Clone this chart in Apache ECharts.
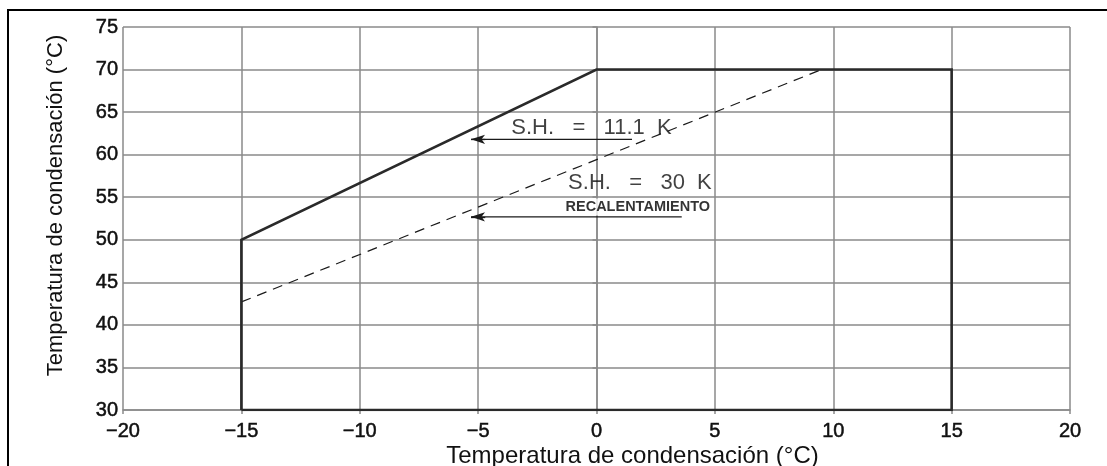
<!DOCTYPE html>
<html>
<head>
<meta charset="utf-8">
<script src="https://cdn.jsdelivr.net/npm/echarts@6/dist/echarts.min.js"></script>
<style>
  html, body { margin: 0; padding: 0; background: #fff; }
  #chart { width: 1107px; height: 466px; }
</style>
</head>
<body>
<div id="chart"></div>
<script>
// envolvente de funcionamiento (S.H. = 11.1 K), recorrido cerrado
const envelopeX = [-15, -15, 0, 15, 15, -15];
const envelopeY = [30, 50, 70, 70, 30, 30];

// límite con S.H. = 30 K
const dashedX = [-15, 9.5];
const dashedY = [42.7, 70];

// flechas: [x inicio, x fin, y]
const arrow11 = [1.5, -5.3, 61.8];
const arrow30 = [3.6, -5.3, 52.7];

// textos de anotación: [x, y, texto]
const notes = [
  [-3.6, 63.1, 'S.H.   =   11.1  K'],
  [-1.2, 56.7, 'S.H.   =   30  K'],
];
const noteBold = [-1.35, 53.85, 'RECALENTAMIENTO'];

const xTitle = 'Temperatura de condensación (°C)';
const yTitle = 'Temperatura de condensación (°C)';

const FONT = "'Liberation Sans', Arial, Helvetica, sans-serif";
const minus = (v) => String(v).replace('-', '\u2212');

const chart = echarts.init(document.getElementById('chart'));

const pair = (xs, ys) => xs.map((x, i) => [x, ys[i]]);
const arrowLine = (a) => ({
  type: 'line',
  data: [[a[0], a[2]], [a[1], a[2]]],
  symbol: 'none',
  silent: true,
  lineStyle: { color: '#1a1a1a', width: 1.3 },
  markLine: {
    silent: true,
    symbol: ['none', 'arrow'],
    symbolSize: [7, 14],
    label: { show: false },
    lineStyle: { color: '#1a1a1a', width: 1.3, type: 'solid' },
    data: [[{ coord: [a[1] + 0.6, a[2]] }, { coord: [a[1], a[2]] }]],
  },
});

const tickLabel = {
  fontSize: 20,
  color: '#111',
  fontFamily: FONT,
  textBorderColor: '#111',
  textBorderWidth: 0.5,
};

chart.setOption({
  animation: false,
  textStyle: { fontFamily: FONT },
  graphic: [{
    type: 'rect',
    shape: { x: 8, y: 10, width: 1120, height: 480 },
    style: { fill: 'none', stroke: '#000', lineWidth: 2 },
    silent: true,
    z: -10,
  }],
  grid: { left: 123, right: 37, top: 27, bottom: 56, containLabel: false, outerBoundsMode: 'none' },
  xAxis: {
    type: 'value',
    min: -20, max: 20, interval: 5,
    name: xTitle,
    nameLocation: 'middle',
    nameGap: 34,
    nameMoveOverlap: false,
    nameTextStyle: { fontSize: 24, color: '#111', fontFamily: FONT, padding: [0, 0, 0, 72] },
    axisLine: { show: true, lineStyle: { color: '#8a8a8a', width: 1.5 } },
    axisTick: { show: true, length: 4, lineStyle: { color: '#8a8a8a', width: 1.5 } },
    axisLabel: Object.assign({ margin: 11, formatter: minus }, tickLabel),
    splitLine: { show: true, lineStyle: { color: '#8a8a8a', width: 1.5 } },
  },
  yAxis: {
    type: 'value',
    min: 30, max: 75, interval: 5,
    name: yTitle,
    nameLocation: 'middle',
    nameGap: 56,
    nameMoveOverlap: false,
    nameTextStyle: { fontSize: 22, color: '#111', fontFamily: FONT, padding: [0, 0, 0, 26] },
    axisLine: { show: true, lineStyle: { color: '#8a8a8a', width: 1.5 } },
    axisTick: { show: true, length: 4, lineStyle: { color: '#8a8a8a', width: 1.5 } },
    axisLabel: Object.assign({ margin: 5 }, tickLabel),
    splitLine: { show: true, lineStyle: { color: '#8a8a8a', width: 1.5 } },
  },
  series: [
    {
      type: 'line',
      data: pair(envelopeX, envelopeY),
      symbol: 'none',
      silent: true,
      z: 5,
      lineStyle: { color: '#2a2a2a', width: 2.6, join: 'miter' },
    },
    {
      type: 'line',
      data: pair(dashedX, dashedY),
      symbol: 'none',
      silent: true,
      z: 4,
      lineStyle: { color: '#1a1a1a', width: 1.2, type: [10, 7] },
    },
    arrowLine(arrow11),
    arrowLine(arrow30),
    {
      type: 'scatter',
      symbolSize: 0,
      silent: true,
      z: 6,
      data: notes.map((n) => ({ value: [n[0], n[1]], name: n[2] })),
      label: {
        show: true,
        position: 'right',
        distance: 0,
        formatter: (p) => p.name,
        fontSize: 22,
        color: '#111',
        fontFamily: FONT,
        align: 'left',
        verticalAlign: 'middle',
      },
    },
    {
      type: 'scatter',
      symbolSize: 0,
      silent: true,
      z: 6,
      data: [{ value: [noteBold[0], noteBold[1]], name: noteBold[2] }],
      label: {
        show: true,
        position: 'right',
        distance: 0,
        formatter: (p) => p.name,
        fontSize: 14.5,
        fontWeight: 'bold',
        color: '#000',
        fontFamily: FONT,
        backgroundColor: '#fff',
        padding: [1, 3, 1, 1],
        align: 'left',
        verticalAlign: 'middle',
      },
    },
  ],
});
</script>
</body>
</html>
